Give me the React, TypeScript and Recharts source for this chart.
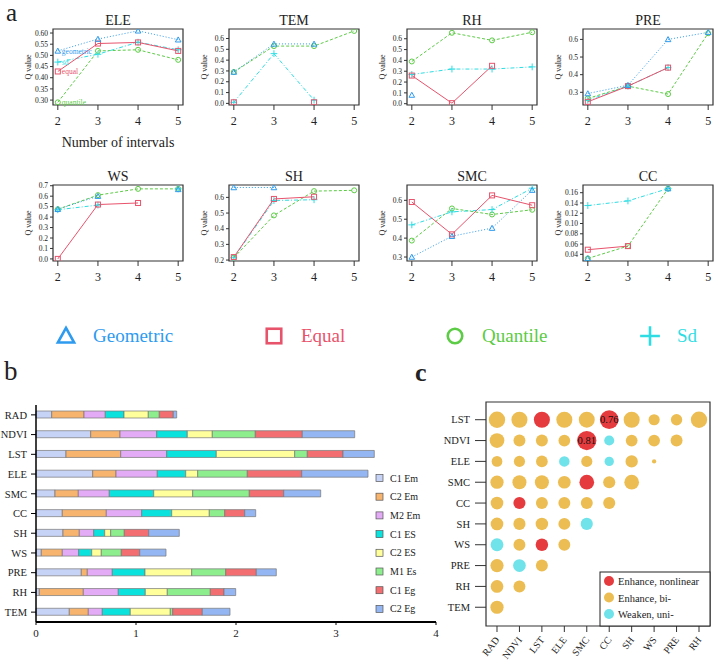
import {
  LineChart,
  Line,
  XAxis,
  YAxis,
  ReferenceArea,
  LabelList,
  BarChart,
  Bar,
  ScatterChart,
  Scatter,
  ZAxis,
} from "recharts";

const FONT = "'Liberation Serif', 'DejaVu Serif', serif";
const INK = "#222";

const GEO = "#2E9BEF";
const EQU = "#E8536C";
const QUA = "#5CCB45";
const SDC = "#2EDDE3";

// ---- panel a: Q value by number of intervals (null = no value)
const intervals = [2, 3, 4, 5];

const geoELE = [0.52, 0.573, 0.61, 0.57];
const eqELE = [0.428, 0.553, 0.558, 0.52];
const quaELE = [0.29, 0.52, 0.525, 0.48];
const sdELE = [0.47, 0.505, 0.559, 0.525];

const geoTEM = [0.29, 0.55, 0.55, null];
const eqTEM = [0.01, null, 0.01, null];
const quaTEM = [0.29, 0.53, 0.53, 0.67];
const sdTEM = [0.01, 0.46, 0.03, null];

const geoRH = [0.08, null, null, null];
const eqRH = [0.26, 0.005, 0.35, null];
const quaRH = [0.39, 0.655, 0.585, 0.66];
const sdRH = [0.27, 0.32, 0.32, 0.34];

const geoPRE = [0.293, 0.34, 0.6, 0.64];
const eqPRE = [0.246, 0.335, 0.44, null];
const quaPRE = [0.265, 0.335, 0.29, 0.635];
const sdPRE = [0.255, 0.335, 0.44, null];

const geoWS = [0.475, 0.6, null, 0.665];
const eqWS = [0.0, 0.52, 0.535, null];
const quaWS = [0.475, 0.61, 0.67, 0.67];
const sdWS = [0.47, 0.515, null, 0.67];

const geoSH = [0.663, 0.663, null, null];
const eqSH = [0.219, 0.59, 0.604, null];
const quaSH = [0.215, 0.485, 0.64, 0.645];
const sdSH = [0.215, 0.58, 0.585, null];

const geoSMC = [0.3, 0.41, 0.453, 0.654];
const eqSMC = [0.591, 0.42, 0.626, 0.574];
const quaSMC = [0.387, 0.557, 0.525, 0.55];
const sdSMC = [0.47, 0.539, 0.551, 0.664];

const geoCC = [0.032, null, 0.168, null];
const eqCC = [0.049, 0.056, null, null];
const quaCC = [0.032, 0.056, 0.168, null];
const sdCC = [0.135, 0.144, 0.168, null];

// ---- panel b: stacked contributions
const factors = ["RAD", "NDVI", "LST", "ELE", "SMC", "CC", "SH", "WS", "PRE", "RH", "TEM"];
const c1Em = [0.157, 0.547, 0.3, 0.567, 0.19, 0.263, 0.27, 0.053, 0.453, 0.033, 0.333];
const c2Em = [0.323, 0.293, 0.547, 0.233, 0.233, 0.44, 0.163, 0.21, 0.06, 0.44, 0.19];
const m2Em = [0.213, 0.367, 0.46, 0.413, 0.31, 0.354, 0.144, 0.164, 0.25, 0.35, 0.14];
const c1ES = [0.187, 0.306, 0.496, 0.284, 0.444, 0.3, 0.11, 0.13, 0.327, 0.27, 0.28];
const c2ES = [0.243, 0.25, 0.784, 0.12, 0.39, 0.376, 0.06, 0.096, 0.467, 0.22, 0.4];
const m1Es = [0.11, 0.43, 0.126, 0.496, 0.566, 0.154, 0.136, 0.2, 0.34, 0.43, 0.024];
const c1Eg = [0.14, 0.47, 0.357, 0.544, 0.344, 0.2, 0.244, 0.184, 0.306, 0.137, 0.296];
const c2Eg = [0.034, 0.524, 0.313, 0.663, 0.37, 0.11, 0.306, 0.263, 0.2, 0.117, 0.277];

// ---- panel c: interaction q values [row, column, q]
const cRows = ["LST", "NDVI", "ELE", "SMC", "CC", "SH", "WS", "PRE", "RH", "TEM"];
const cCols = ["RAD", "NDVI", "LST", "ELE", "SMC", "CC", "SH", "WS", "PRE", "RH"];

const nonlinear: [string, string, number][] = [
  ["LST", "LST", 0.56], ["LST", "CC", 0.76], ["NDVI", "SMC", 0.81],
  ["SMC", "SMC", 0.47], ["CC", "NDVI", 0.32], ["WS", "LST", 0.34],
];
const weaken: [string, string, number][] = [
  ["NDVI", "CC", 0.22], ["ELE", "ELE", 0.24], ["ELE", "CC", 0.19],
  ["SH", "SMC", 0.32], ["WS", "RAD", 0.36], ["PRE", "NDVI", 0.35],
];
const bivariate: [string, string, number][] = [
  ["LST", "RAD", 0.58], ["LST", "NDVI", 0.56], ["LST", "ELE", 0.56], ["LST", "SMC", 0.55],
  ["LST", "SH", 0.56], ["LST", "WS", 0.27], ["LST", "PRE", 0.28], ["LST", "RH", 0.58],
  ["NDVI", "RAD", 0.47], ["NDVI", "NDVI", 0.31], ["NDVI", "LST", 0.31], ["NDVI", "ELE", 0.3],
  ["NDVI", "SH", 0.3], ["NDVI", "WS", 0.3], ["NDVI", "PRE", 0.31],
  ["ELE", "RAD", 0.25], ["ELE", "NDVI", 0.27], ["ELE", "LST", 0.3], ["ELE", "SMC", 0.27],
  ["ELE", "SH", 0.33], ["ELE", "WS", 0.04],
  ["SMC", "RAD", 0.38], ["SMC", "NDVI", 0.43], ["SMC", "LST", 0.43], ["SMC", "ELE", 0.35],
  ["SMC", "CC", 0.32], ["SMC", "SH", 0.47],
  ["CC", "RAD", 0.35], ["CC", "LST", 0.31], ["CC", "ELE", 0.31], ["CC", "SMC", 0.31], ["CC", "CC", 0.32],
  ["SH", "RAD", 0.35], ["SH", "NDVI", 0.32], ["SH", "LST", 0.34], ["SH", "ELE", 0.31],
  ["WS", "NDVI", 0.31], ["WS", "ELE", 0.31],
  ["PRE", "RAD", 0.38], ["PRE", "LST", 0.31],
  ["RH", "RAD", 0.35], ["RH", "NDVI", 0.31],
  ["TEM", "RAD", 0.38],
];

const RED = "#E63B3E";
const GOLD = "#ECBD52";
const AQUA = "#6FE2EA";

const KIND_COLOR: Record<string, string> = { geometric: GEO, equal: EQU, quantile: QUA, sd: SDC };
const KIND_DASH: Record<string, string | undefined> = {
  geometric: "1 2",
  equal: undefined,
  quantile: "3 2",
  sd: "4 2 1 2",
};

function Marker({ kind, cx, cy, s = 1, w = 1 }: any) {
  const c = KIND_COLOR[kind];
  if (kind === "geometric") {
    const r = 2.8 * s;
    return (
      <path
        d={`M${cx},${cy - r} L${cx + r},${cy + r * 0.8} L${cx - r},${cy + r * 0.8} Z`}
        fill="none"
        stroke={c}
        strokeWidth={w}
      />
    );
  }
  if (kind === "equal")
    return <rect x={cx - 2.5 * s} y={cy - 2.5 * s} width={5 * s} height={5 * s} fill="none" stroke={c} strokeWidth={w} />;
  if (kind === "quantile") return <circle cx={cx} cy={cy} r={2.5 * s} fill="none" stroke={c} strokeWidth={w} />;
  return <path d={`M${cx - 3.4 * s},${cy} H${cx + 3.4 * s} M${cx},${cy - 3.4 * s} V${cy + 3.4 * s}`} stroke={c} strokeWidth={w} />;
}

const dotFor = (kind: string) => (p: any) => {
  const k = `${kind}-${p.index}`;
  if (p.cx == null || p.cy == null || p.value == null) return <g key={k} />;
  return (
    <g key={k}>
      <Marker kind={kind} cx={p.cx} cy={p.cy} />
    </g>
  );
};

const tagFor = (kind: string) => (p: any) => {
  if (p.index !== 0) return null;
  const vb = p.viewBox || p;
  return (
    <text x={vb.x + 4} y={vb.y + 3} fontSize={7.5} fill={KIND_COLOR[kind]} fontFamily={FONT}>
      {kind}
    </text>
  );
};

const PW = 130;
const PH = 76;
const PAD = 6;
const XDOM = [1.88, 5.12];

const panels = [
  { name: "ELE", geo: geoELE, eq: eqELE, qua: quaELE, sd: sdELE, left: 53, top: 29, domain: [0.278, 0.618], ticks: [0.3, 0.35, 0.4, 0.45, 0.5, 0.55, 0.6], digits: 2, tags: true },
  { name: "TEM", geo: geoTEM, eq: eqTEM, qua: quaTEM, sd: sdTEM, left: 229, top: 29, domain: [-0.015, 0.688], ticks: [0, 0.1, 0.2, 0.3, 0.4, 0.5, 0.6], digits: 1 },
  { name: "RH", geo: geoRH, eq: eqRH, qua: quaRH, sd: sdRH, left: 407, top: 29, domain: [-0.012, 0.69], ticks: [0, 0.1, 0.2, 0.3, 0.4, 0.5, 0.6], digits: 1 },
  { name: "PRE", geo: geoPRE, eq: eqPRE, qua: quaPRE, sd: sdPRE, left: 583, top: 29, domain: [0.228, 0.659], ticks: [0.3, 0.4, 0.5, 0.6], digits: 1 },
  { name: "WS", geo: geoWS, eq: eqWS, qua: quaWS, sd: sdWS, left: 53, top: 185, domain: [-0.02, 0.707], ticks: [0, 0.1, 0.2, 0.3, 0.4, 0.5, 0.6, 0.7], digits: 1 },
  { name: "SH", geo: geoSH, eq: eqSH, qua: quaSH, sd: sdSH, left: 229, top: 185, domain: [0.194, 0.679], ticks: [0.2, 0.3, 0.4, 0.5, 0.6], digits: 1 },
  { name: "SMC", geo: geoSMC, eq: eqSMC, qua: quaSMC, sd: sdSMC, left: 407, top: 185, domain: [0.279, 0.681], ticks: [0.3, 0.4, 0.5, 0.6], digits: 1 },
  { name: "CC", geo: geoCC, eq: eqCC, qua: quaCC, sd: sdCC, left: 583, top: 185, domain: [0.027, 0.175], ticks: [0.04, 0.06, 0.08, 0.1, 0.12, 0.14, 0.16], digits: 2 },
];

function SmallPanel({ geo, eq, qua, sd, left, top, domain, ticks, digits, tags }: any) {
  const data = intervals.map((n, i) => ({ n, geometric: geo[i], equal: eq[i], quantile: qua[i], sd: sd[i] }));
  const kinds = ["quantile", "sd", "equal", "geometric"];
  return (
    <div style={{ position: "absolute", left: left - 45, top: top - PAD }}>
      <LineChart width={45 + PW + 4} height={PH + 30 + PAD} data={data} margin={{ top: PAD, right: 4, bottom: 0, left: 13 }}>
        <XAxis
          dataKey="n"
          type="number"
          domain={XDOM}
          ticks={intervals}
          allowDataOverflow
          axisLine={false}
          tickSize={5}
          tickMargin={6}
          interval={0}
          height={30}
          tickLine={{ stroke: "#333" }}
          tick={{ fontSize: 12, fill: INK, fontFamily: FONT }}
        />
        <YAxis
          type="number"
          domain={domain}
          ticks={ticks}
          allowDataOverflow
          width={32}
          axisLine={false}
          tickSize={3}
          tickMargin={2}
          interval={0}
          tickLine={{ stroke: "#333" }}
          tickFormatter={(v: number) => v.toFixed(digits)}
          tick={{ fontSize: 7.5, fill: INK, fontFamily: FONT }}
        />
        <ReferenceArea
          x1={XDOM[0]}
          x2={XDOM[1]}
          y1={domain[0]}
          y2={domain[1]}
          ifOverflow="visible"
          fill="none"
          stroke="#333"
          strokeWidth={1.2}
        />
        {kinds.map((k) => (
          <Line
            key={k}
            dataKey={k}
            stroke={KIND_COLOR[k]}
            strokeWidth={1}
            strokeDasharray={KIND_DASH[k]}
            dot={dotFor(k)}
            activeDot={false}
            isAnimationActive={false}
          >
            {tags && <LabelList dataKey={k} content={tagFor(k)} />}
          </Line>
        ))}
      </LineChart>
    </div>
  );
}

const barKeys = [
  { key: "c1Em", name: "C1 Em", color: "#C7D2F7", values: c1Em },
  { key: "c2Em", name: "C2 Em", color: "#F7B46E", values: c2Em },
  { key: "m2Em", name: "M2 Em", color: "#E3AAF5", values: m2Em },
  { key: "c1ES", name: "C1 ES", color: "#0AE3DD", values: c1ES },
  { key: "c2ES", name: "C2 ES", color: "#FFFF9C", values: c2ES },
  { key: "m1Es", name: "M1 Es", color: "#8CEE8C", values: m1Es },
  { key: "c1Eg", name: "C1 Eg", color: "#F36E70", values: c1Eg },
  { key: "c2Eg", name: "C2 Eg", color: "#94B6F2", values: c2Eg },
];

function FactorBars() {
  const table = factors.map((f, i) => {
    const row: any = { factor: f };
    barKeys.forEach((b) => (row[b.key] = b.values[i]));
    return row;
  });
  return (
    <div style={{ position: "absolute", left: 0, top: 400 }}>
      <BarChart width={445} height={250} data={table} layout="vertical" margin={{ top: 5, right: 9, bottom: 0, left: 0 }} barSize={7}>
        <XAxis
          type="number"
          domain={[0, 4]}
          ticks={[0, 1, 2, 3, 4]}
          interval={0}
          axisLine={{ stroke: "#000", strokeWidth: 2 }}
          tickLine={{ stroke: "#000" }}
          tickSize={3}
          tickMargin={4}
          height={28}
          tick={{ fontSize: 11, fill: INK, fontFamily: FONT }}
        />
        <YAxis
          type="category"
          dataKey="factor"
          width={36}
          interval={0}
          axisLine={{ stroke: "#000", strokeWidth: 1.5 }}
          tickLine={{ stroke: "#000" }}
          tickSize={5}
          tickMargin={4}
          tick={{ fontSize: 10.5, fill: INK, fontFamily: FONT }}
        />
        {barKeys.map((b) => (
          <Bar key={b.key} dataKey={b.key} stackId="s" fill={b.color} stroke="#777" strokeWidth={0.7} isAnimationActive={false} />
        ))}
      </BarChart>
    </div>
  );
}

const toPoints = (list: [string, string, number][]) =>
  list.map(([r, c, q]) => ({
    row: cRows.indexOf(r),
    col: cCols.indexOf(c),
    q,
    label: q >= 0.7 ? q.toFixed(2) : undefined,
  }));

const XC: [number, number] = [-0.49, 9.49];
const YC: [number, number] = [-0.85, 9.9];

function InteractionBubbles() {
  return (
    <div style={{ position: "absolute", left: 436, top: 400 }}>
      <ScatterChart width={280} height={263} margin={{ top: 2, right: 6, bottom: 0, left: 0 }}>
        <XAxis
          type="number"
          dataKey="col"
          domain={XC}
          ticks={cCols.map((_, i) => i)}
          allowDataOverflow
          interval={0}
          axisLine={false}
          tickSize={6}
          tickLine={{ stroke: "#333" }}
          height={37}
          tick={(p: any) => (
            <text
              key={`xt-${p.index}`}
              transform={`translate(${p.x + 3},${p.y + 6}) rotate(-52)`}
              textAnchor="end"
              fontSize={10}
              fill={INK}
              fontFamily={FONT}
            >
              {cCols[p.payload.value]}
            </text>
          )}
        />
        <YAxis
          type="number"
          dataKey="row"
          domain={YC}
          reversed
          ticks={cRows.map((_, i) => i)}
          allowDataOverflow
          interval={0}
          width={50}
          axisLine={false}
          tickSize={11}
          tickMargin={5}
          tickLine={{ stroke: "#333" }}
          tickFormatter={(v: number) => cRows[v]}
          tick={{ fontSize: 10.5, fill: INK, fontFamily: FONT }}
        />
        <ZAxis type="number" dataKey="q" domain={[0, 1]} range={[0, 361]} />
        <ReferenceArea x1={XC[0]} x2={XC[1]} y1={YC[0]} y2={YC[1]} ifOverflow="visible" fill="none" stroke="#333" strokeWidth={1.2} />
        <Scatter data={toPoints(bivariate)} fill={GOLD} isAnimationActive={false} />
        <Scatter data={toPoints(weaken)} fill={AQUA} isAnimationActive={false} />
        <Scatter data={toPoints(nonlinear)} fill={RED} isAnimationActive={false}>
          <LabelList dataKey="label" position="center" fill="#111" fontSize={10.5} fontFamily={FONT} />
        </Scatter>
      </ScatterChart>
    </div>
  );
}

function Overlay() {
  const methods = [
    { kind: "geometric", label: "Geometric", x: 66 },
    { kind: "equal", label: "Equal", x: 274 },
    { kind: "quantile", label: "Quantile", x: 455 },
    { kind: "sd", label: "Sd", x: 650 },
  ];
  const cLegend = [
    { label: "Enhance, nonlinear", color: RED },
    { label: "Enhance, bi-", color: GOLD },
    { label: "Weaken, uni-", color: AQUA },
  ];
  return (
    <svg width={716} height={663} style={{ position: "absolute", left: 0, top: 0, pointerEvents: "none" }} fontFamily={FONT}>
      <text x={6} y={21} fontSize={25} fill={INK}>a</text>
      {panels.map((p) => (
        <g key={p.name}>
          <text x={p.left + PW / 2} y={p.top - 4} fontSize={14} textAnchor="middle" fill={INK}>{p.name}</text>
          <text
            transform={`translate(${p.left - 22},${p.top + PH / 2}) rotate(-90)`}
            fontSize={8}
            textAnchor="middle"
            fill={INK}
          >
            Q value
          </text>
        </g>
      ))}
      <text x={118} y={147} fontSize={14} textAnchor="middle" fill={INK}>Number of intervals</text>

      {methods.map((m) => (
        <g key={m.kind}>
          <Marker kind={m.kind} cx={m.x} cy={336} s={2.9} w={2.6} />
          <text x={m.x + 27} y={342} fontSize={19} fill={KIND_COLOR[m.kind]}>{m.label}</text>
        </g>
      ))}

      <text x={4} y={380} fontSize={27} fill={INK}>b</text>
      {barKeys.map((b, i) => (
        <g key={b.key}>
          <rect x={376} y={474.5 + i * 18.7} width={7} height={7} fill={b.color} stroke="#555" strokeWidth={0.7} />
          <text x={390} y={481.5 + i * 18.7} fontSize={10} fill={INK}>{b.name}</text>
        </g>
      ))}

      <text x={415} y={381} fontSize={26} fontWeight="bold" fill={INK}>c</text>
      <rect x={600} y={572} width={110} height={54} fill="#fff" stroke="#222" strokeWidth={1} />
      {cLegend.map((l, i) => (
        <g key={l.label}>
          <circle cx={609} cy={581 + i * 16.5} r={5} fill={l.color} />
          <text x={618} y={585 + i * 16.5} fontSize={10.5} fill={INK}>{l.label}</text>
        </g>
      ))}
    </svg>
  );
}

export default function App() {
  return (
    <div
      style={{
        position: "absolute",
        left: 0,
        top: 0,
        width: 716,
        height: 663,
        overflow: "hidden",
        background: "#fff",
        fontFamily: FONT,
        color: INK,
      }}
    >
      {panels.map((p) => (
        <SmallPanel key={p.name} {...p} />
      ))}
      <FactorBars />
      <InteractionBubbles />
      <Overlay />
    </div>
  );
}
